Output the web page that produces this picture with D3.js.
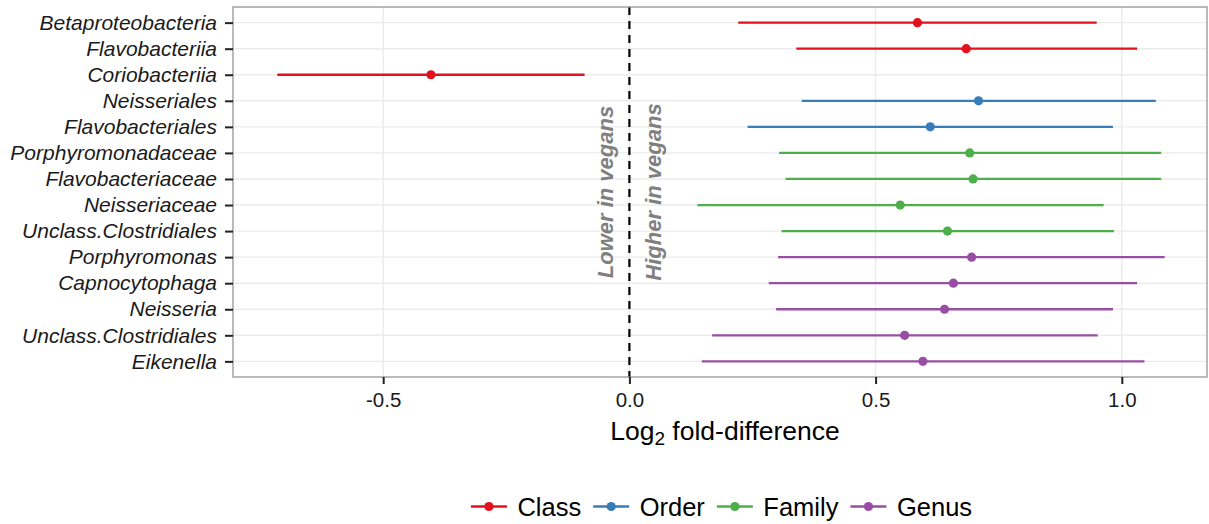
<!DOCTYPE html>
<html>
<head>
<meta charset="utf-8">
<script src="https://cdn.jsdelivr.net/npm/d3@7"></script>
<style>
  html, body { margin: 0; padding: 0; background: #fff; }
  svg { display: block; font-family: "Liberation Sans", Arial, Helvetica, sans-serif; }
</style>
</head>
<body>
<svg id="chart" width="1209" height="524"></svg>
<script>
// ---- data ----
const categories = [
  "Betaproteobacteria", "Flavobacteriia", "Coriobacteriia",
  "Neisseriales", "Flavobacteriales",
  "Porphyromonadaceae", "Flavobacteriaceae", "Neisseriaceae", "Unclass.Clostridiales",
  "Porphyromonas", "Capnocytophaga", "Neisseria", "Unclass.Clostridiales", "Eikenella"
];
const levels = [
  "Class", "Class", "Class",
  "Order", "Order",
  "Family", "Family", "Family", "Family",
  "Genus", "Genus", "Genus", "Genus", "Genus"
];
const estimates = [0.585, 0.684, -0.403, 0.709, 0.611, 0.691, 0.698, 0.550, 0.646, 0.695, 0.658, 0.640, 0.559, 0.596];
const lowerCI   = [0.221, 0.339, -0.715, 0.350, 0.240, 0.304, 0.317, 0.138, 0.309, 0.302, 0.283, 0.298, 0.168, 0.147];
const upperCI   = [0.949, 1.031, -0.091, 1.069, 0.982, 1.080, 1.080, 0.963, 0.984, 1.087, 1.031, 0.982, 0.951, 1.046];

const levelNames  = ["Class", "Order", "Family", "Genus"];
const levelColors = ["#E3101E", "#377EB8", "#4DAF4A", "#984EA3"];

const xTicks      = [-0.5, 0, 0.5, 1.0];
const xTickLabels = ["-0.5", "0.0", "0.5", "1.0"];
const xTitleMain  = "Log";
const xTitleSub   = "2";
const xTitleRest  = " fold-difference";
const lowerLabel  = "Lower in vegans";
const higherLabel = "Higher in vegans";

// ---- layout ----
const svg = d3.select("#chart");
const panel = { left: 233, right: 1207, top: 7, bottom: 377 };

const x = d3.scaleLinear().domain([-0.805, 1.173]).range([panel.left, panel.right]);
const idx = d3.range(categories.length);
const y = d3.scalePoint().domain(idx).range([panel.top, panel.bottom]).padding(0.6);
const color = d3.scaleOrdinal().domain(levelNames).range(levelColors);

// panel background
svg.append("rect")
  .attr("x", panel.left).attr("y", panel.top)
  .attr("width", panel.right - panel.left).attr("height", panel.bottom - panel.top)
  .attr("fill", "#fff");

// grid lines
const grid = svg.append("g");
grid.selectAll("line.h").data(idx).enter().append("line")
  .attr("x1", panel.left).attr("x2", panel.right)
  .attr("y1", d => y(d)).attr("y2", d => y(d))
  .attr("stroke", "#EBEBEB").attr("stroke-width", 1.4);
grid.selectAll("line.v").data(xTicks).enter().append("line")
  .attr("x1", d => x(d)).attr("x2", d => x(d))
  .attr("y1", panel.top).attr("y2", panel.bottom)
  .attr("stroke", "#EBEBEB").attr("stroke-width", 1.4);

// zero reference line
svg.append("line")
  .attr("x1", x(0)).attr("x2", x(0))
  .attr("y1", panel.top).attr("y2", panel.bottom)
  .attr("stroke", "#000").attr("stroke-width", 2.2)
  .attr("stroke-dasharray", "8,6");

// annotations
svg.append("text")
  .attr("transform", `translate(${x(0) - 16},192) rotate(-90)`)
  .attr("text-anchor", "middle")
  .attr("font-size", "22px").attr("font-style", "italic").attr("font-weight", "bold")
  .attr("fill", "#808080")
  .text(lowerLabel);
svg.append("text")
  .attr("transform", `translate(${x(0) + 31.5},192) rotate(-90)`)
  .attr("text-anchor", "middle")
  .attr("font-size", "22px").attr("font-style", "italic").attr("font-weight", "bold")
  .attr("fill", "#808080")
  .text(higherLabel);

// error bars and points
const marks = svg.append("g");
marks.selectAll("line.ci").data(idx).enter().append("line")
  .attr("x1", i => x(lowerCI[i])).attr("x2", i => x(upperCI[i]))
  .attr("y1", i => y(i)).attr("y2", i => y(i))
  .attr("stroke", i => color(levels[i])).attr("stroke-width", 2.3);
marks.selectAll("circle.pt").data(idx).enter().append("circle")
  .attr("cx", i => x(estimates[i])).attr("cy", i => y(i)).attr("r", 4.6)
  .attr("fill", i => color(levels[i]));

// panel border
svg.append("rect")
  .attr("x", panel.left).attr("y", panel.top)
  .attr("width", panel.right - panel.left).attr("height", panel.bottom - panel.top)
  .attr("fill", "none").attr("stroke", "#8c8c8c").attr("stroke-width", 1.2);

// axes
const xAxis = svg.append("g")
  .attr("transform", `translate(0,${panel.bottom})`)
  .call(d3.axisBottom(x).tickValues(xTicks).tickSize(7).tickPadding(8)
    .tickFormat((d, i) => xTickLabels[i]));
xAxis.select(".domain").remove();
xAxis.selectAll(".tick line").attr("stroke", "#222").attr("stroke-width", 2);
xAxis.selectAll(".tick text").attr("font-size", "20.5px").attr("fill", "#1a1a1a")
  .attr("font-family", "'Liberation Sans', Arial, sans-serif");

const yAxis = svg.append("g")
  .attr("transform", `translate(${panel.left},0)`)
  .call(d3.axisLeft(y).tickSize(8).tickPadding(8).tickFormat(i => categories[i]));
yAxis.select(".domain").remove();
yAxis.selectAll(".tick line").attr("stroke", "#222").attr("stroke-width", 2);
yAxis.selectAll(".tick text").attr("font-size", "21px").attr("font-style", "italic")
  .attr("fill", "#1a1a1a").attr("font-family", "'Liberation Sans', Arial, sans-serif");

// x axis title
const title = svg.append("text")
  .attr("x", (panel.left + panel.right) / 2 + 5).attr("y", 440)
  .attr("text-anchor", "middle").attr("font-size", "26.5px").attr("fill", "#000");
title.append("tspan").text(xTitleMain);
title.append("tspan").attr("font-size", "19px").attr("dy", "5").text(xTitleSub);
title.append("tspan").attr("dy", "-5").text(xTitleRest);

// legend
const legend = svg.append("g");
const keyW = 36, keyGap = 10.5, itemGap = 12, legendY = 506.5;
let cursor = 0;
levelNames.forEach((name, i) => {
  const g = legend.append("g").attr("transform", `translate(${cursor},0)`);
  g.append("line").attr("x1", 0).attr("x2", keyW).attr("y1", legendY).attr("y2", legendY)
    .attr("stroke", levelColors[i]).attr("stroke-width", 2.3);
  g.append("circle").attr("cx", keyW / 2).attr("cy", legendY).attr("r", 4.6)
    .attr("fill", levelColors[i]);
  const t = g.append("text").attr("x", keyW + keyGap).attr("y", legendY + 9)
    .attr("font-size", "25.5px").attr("fill", "#000").text(name);
  cursor += keyW + keyGap + t.node().getComputedTextLength() + itemGap;
});
const legendWidth = cursor - itemGap;
legend.attr("transform", `translate(${721.5 - legendWidth / 2},0)`);
</script>
</body>
</html>
